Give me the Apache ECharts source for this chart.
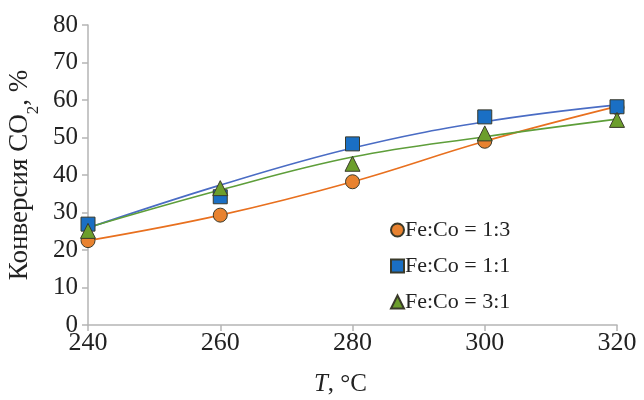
<!DOCTYPE html>
<html><head><meta charset="utf-8">
<script src="https://cdn.jsdelivr.net/npm/echarts@6/dist/echarts.min.js"></script>
<style>html,body{margin:0;padding:0;background:#fff}#c{width:644px;height:400px}</style>
</head><body><div id="c"></div>
<script>
const temps = [240, 260, 280, 300, 320];
const names = ['Fe:Co = 1:3', 'Fe:Co = 1:1', 'Fe:Co = 3:1'];
// measured points
const conv13 = [22.5, 29.3, 38.2, 49.0, 58.0];
const conv11 = [26.9, 34.2, 48.3, 55.5, 58.2];
const conv31 = [25.1, 36.5, 43.0, 51.1, 54.7];
// trend curves read at the same temperatures
const trend13 = [22.5, 29.3, 38.2, 49.0, 58.3];
const trend11 = [25.9, 37.3, 47.2, 54.2, 58.7];
const trend31 = [26.0, 36.0, 44.8, 50.2, 54.9];
const yTicks = [0, 10, 20, 30, 40, 50, 60, 70, 80];

const fill = ['#E8822F', '#1A6FC4', '#6C9E2C'];
const lineCol = ['#E8701F', '#4A6CC4', '#5E9E3A'];
const symbols = ['circle', 'rect', 'triangle'];
const pts = [conv13, conv11, conv31];
const trends = [trend13, trend11, trend31];
const font = '"Liberation Serif", "Times New Roman", serif';

const series = [];
trends.forEach((t, i) => {
  series.push({
    name: names[i] + ' trend', type: 'line', smooth: 0.4, showSymbol: false, symbol: 'none',
    data: temps.map((x, k) => [x, t[k]]),
    lineStyle: { color: lineCol[i], width: 1.6 }, z: 2, silent: true
  });
});
pts.forEach((p, i) => {
  series.push({
    name: names[i], type: 'scatter', symbol: symbols[i], symbolSize: i === 2 ? 15 : 14,
    data: temps.map((x, k) => [x, p[k]]),
    itemStyle: { color: fill[i], opacity: 1, borderColor: '#3a3a2a', borderWidth: 1 }, z: 3 + i
  });
});

const chart = echarts.init(document.getElementById('c'));
chart.setOption({
  animation: false,
  textStyle: { fontFamily: font },
  grid: { left: 88, right: 27, top: 25, bottom: 75, containLabel: false, outerBoundsMode: 'none' },
  legend: {
    data: names.map((n, i) => ({ name: n, icon: symbols[i], itemStyle: { opacity: 1 } })),
    orient: 'vertical', left: 385, top: 214, itemGap: 14,
    itemWidth: 13, itemHeight: 13,
    textStyle: { fontFamily: font, fontSize: 22, color: '#222', padding: [0, 0, 0, -4] }
  },
  xAxis: {
    type: 'value', min: 240, max: 320, interval: 20,
    name: '{i|T}, °C', nameLocation: 'middle', nameGap: 47,
    nameTextStyle: { fontFamily: font, fontSize: 25, color: '#222', padding: [0, 24, 0, 0], rich: { i: { fontFamily: font, fontSize: 25, fontStyle: 'italic', color: '#222' } } },
    axisLine: { show: true, lineStyle: { color: '#b5b5b5', width: 1.5 } },
    axisTick: { show: true, length: 6, lineStyle: { color: '#b5b5b5', width: 1.5 } },
    axisLabel: { fontFamily: font, fontSize: 26, color: '#222', margin: 5 },
    splitLine: { show: false }
  },
  yAxis: {
    type: 'value', min: 0, max: 80, interval: 10,
    name: 'Конверсия CO{s|2}, %', nameLocation: 'middle', nameGap: 51, nameRotate: 90,
    nameTextStyle: { fontFamily: font, fontSize: 27, color: '#222', rich: { s: { fontFamily: font, fontSize: 17, color: '#222', verticalAlign: 'bottom', padding: [0, 0, -9, 0] } } },
    axisLine: { show: true, lineStyle: { color: '#b5b5b5', width: 1.5 } },
    axisTick: { show: true, length: 6, lineStyle: { color: '#b5b5b5', width: 1.5 } },
    axisLabel: { fontFamily: font, fontSize: 25, color: '#222', margin: 10, formatter: v => yTicks.includes(v) ? String(v) : '' },
    splitLine: { show: false }
  },
  series: series
});
</script></body></html>
